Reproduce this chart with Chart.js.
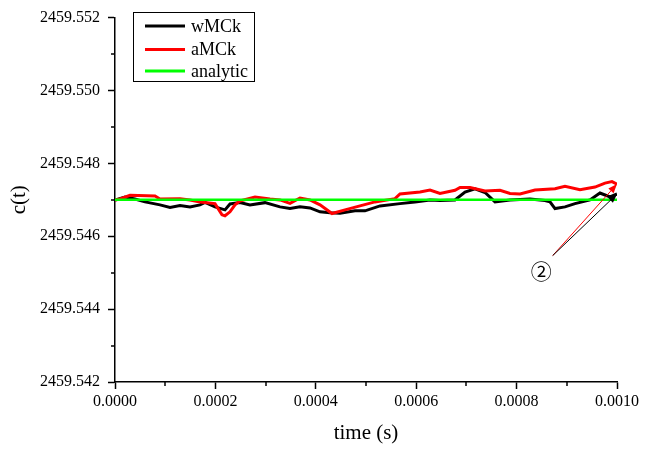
<!DOCTYPE html>
<html>
<head>
<meta charset="utf-8">
<script src="https://cdn.jsdelivr.net/npm/chart.js@4"></script>
<style>
  body { margin: 0; background: #fff; }
  #wrap { width: 652px; height: 449px; }
</style>
</head>
<body>
<div id="wrap"><canvas id="chart" width="652" height="449"></canvas></div>
<script>
// wMCk series (time in s, c(t))
const wTime = [0, 0.0000199, 0.0000398, 0.0000598, 0.0000896, 0.0001096, 0.0001295, 0.0001494, 0.0001693, 0.0001793,
  0.0001992, 0.0002191, 0.0002291, 0.000249, 0.0002689, 0.0002988, 0.0003287, 0.0003486, 0.0003685, 0.0003884,
  0.0004084, 0.0004283, 0.0004482, 0.0004781, 0.000498, 0.0005279, 0.0005677, 0.0005976, 0.0006275, 0.0006474,
  0.0006773, 0.0006972, 0.0007171, 0.0007371, 0.000757, 0.0007869, 0.0008267, 0.0008566, 0.0008665, 0.0008765,
  0.0008964, 0.0009163, 0.0009462, 0.0009661, 0.0009761, 0.0009861, 0.001];
const wValues = [2459.546996, 2459.547078, 2459.547023, 2459.546942, 2459.54686, 2459.546792, 2459.546846, 2459.546806, 2459.54686, 2459.546928,
  2459.546806, 2459.546724, 2459.546887, 2459.546928, 2459.54686, 2459.546922, 2459.546806, 2459.546759, 2459.546806, 2459.546778,
  2459.54667, 2459.546642, 2459.546629, 2459.546697, 2459.546697, 2459.546833, 2459.546895, 2459.546942, 2459.546996, 2459.546982,
  2459.546996, 2459.547213, 2459.547303, 2459.5472, 2459.546942, 2459.546996, 2459.547023, 2459.546982, 2459.546942, 2459.546759,
  2459.546806, 2459.546895, 2459.546996, 2459.547186, 2459.547132, 2459.547078, 2459.547159];

// aMCk series
const aTime = [0, 0.00001, 0.0000299, 0.0000797, 0.0000896, 0.0001295, 0.0001494, 0.0001693, 0.0001992, 0.0002131,
  0.0002191, 0.0002291, 0.000239, 0.000249, 0.0002789, 0.0003088, 0.0003287, 0.0003486, 0.0003685, 0.0003884,
  0.0004084, 0.0004323, 0.0004582, 0.000488, 0.0005179, 0.0005578, 0.0005677, 0.0006076, 0.0006275, 0.0006474,
  0.0006773, 0.0006873, 0.0007072, 0.0007371, 0.0007669, 0.0007869, 0.0008068, 0.0008367, 0.0008765, 0.0008964,
  0.0009263, 0.0009562, 0.0009761, 0.00099, 0.001];
const aValues = [2459.546996, 2459.547023, 2459.547124, 2459.547105, 2459.547023, 2459.547031, 2459.546996, 2459.546942, 2459.546895, 2459.546588,
  2459.546561, 2459.54667, 2459.54686, 2459.546969, 2459.547078, 2459.547023, 2459.546996, 2459.546901, 2459.54705, 2459.546996,
  2459.54686, 2459.546623, 2459.546724, 2459.546833, 2459.546942, 2459.547031, 2459.547159, 2459.547213, 2459.547268, 2459.547173,
  2459.54726, 2459.547336, 2459.547336, 2459.547241, 2459.54726, 2459.547173, 2459.547159, 2459.547268, 2459.547303, 2459.547369,
  2459.547276, 2459.54735, 2459.547458, 2459.547499, 2459.547431];

// analytic series
const anTime = [0, 0.001];
const anValues = [2459.547, 2459.547];

const seriesLabels = ["wMCk", "aMCk", "analytic"];
const seriesColors = ["#000000", "#ff0000", "#00ff00"];

// annotation: circled label with arrows pointing to the series ends
const noteText = "②";
const notePos = { t: 0.000849, c: 2459.54504 };
const arrowStart = { t: 0.000872, c: 2459.54547 };

const serif = "'Liberation Serif', 'Times New Roman', serif";

function toPoints(ts, vs) {
  return ts.map((t, i) => ({ x: t, y: vs[i] }));
}

// minor ticks, legend box and arrows
const extras = {
  id: "extras",
  afterDraw(chart) {
    const ctx = chart.ctx;
    const xs = chart.scales.x;
    const ys = chart.scales.y;
    ctx.save();
    ctx.strokeStyle = "#000";
    ctx.lineWidth = 1.5;
    xs.ticks.forEach((tk, i) => {
      if (i % 2 === 1) {
        const px = Math.round(xs.getPixelForValue(tk.value));
        ctx.beginPath();
        ctx.moveTo(px, xs.top);
        ctx.lineTo(px, xs.top + 4);
        ctx.stroke();
      }
    });
    ys.ticks.forEach((tk, i) => {
      if (i % 2 === 1) {
        const py = Math.round(ys.getPixelForValue(tk.value));
        ctx.beginPath();
        ctx.moveTo(ys.right, py);
        ctx.lineTo(ys.right - 4, py);
        ctx.stroke();
      }
    });

    // legend
    ctx.lineWidth = 1;
    ctx.strokeRect(133.5, 12.5, 121, 69);
    const rows = [26, 49.5, 71];
    ctx.font = "18px " + serif;
    ctx.textBaseline = "middle";
    chart.data.datasets.forEach((ds, i) => {
      ctx.strokeStyle = ds.borderColor;
      ctx.lineWidth = 3;
      ctx.beginPath();
      ctx.moveTo(145, rows[i]);
      ctx.lineTo(185, rows[i]);
      ctx.stroke();
      ctx.fillStyle = "#000";
      ctx.fillText(ds.label, 191, rows[i] + 1);
    });

    // arrows
    const sx = xs.getPixelForValue(arrowStart.t);
    const sy = ys.getPixelForValue(arrowStart.c);
    [[1, "#ff0000"], [0, "#000000"]].forEach(([di, col]) => {
      const d = chart.data.datasets[di].data;
      const end = d[d.length - 1];
      const ex = xs.getPixelForValue(end.x);
      const ey = ys.getPixelForValue(end.y);
      const ang = Math.atan2(ey - sy, ex - sx);
      ctx.strokeStyle = col;
      ctx.fillStyle = col;
      ctx.lineWidth = 1;
      ctx.beginPath();
      ctx.moveTo(sx, sy);
      ctx.lineTo(ex - 7 * Math.cos(ang), ey - 7 * Math.sin(ang));
      ctx.stroke();
      ctx.beginPath();
      ctx.moveTo(ex, ey);
      ctx.lineTo(ex - 9 * Math.cos(ang) + 3.5 * Math.sin(ang), ey - 9 * Math.sin(ang) - 3.5 * Math.cos(ang));
      ctx.lineTo(ex - 9 * Math.cos(ang) - 3.5 * Math.sin(ang), ey - 9 * Math.sin(ang) + 3.5 * Math.cos(ang));
      ctx.closePath();
      ctx.fill();
    });

    ctx.fillStyle = "#000";
    ctx.font = "21px 'Noto Sans CJK SC', 'DejaVu Sans', sans-serif";
    ctx.textAlign = "center";
    ctx.textBaseline = "middle";
    ctx.fillText(noteText, xs.getPixelForValue(notePos.t), ys.getPixelForValue(notePos.c));
    ctx.restore();
  }
};

new Chart(document.getElementById("chart"), {
  type: "line",
  data: {
    datasets: [
      { label: seriesLabels[0], data: toPoints(wTime, wValues), borderColor: seriesColors[0], borderWidth: 3, order: 2 },
      { label: seriesLabels[1], data: toPoints(aTime, aValues), borderColor: seriesColors[1], borderWidth: 3, order: 1 },
      { label: seriesLabels[2], data: toPoints(anTime, anValues), borderColor: seriesColors[2], borderWidth: 2.5, order: 0 },
    ],
  },
  options: {
    responsive: false,
    animation: false,
    events: [],
    elements: { point: { radius: 0 }, line: { tension: 0 } },
    layout: { padding: { top: 14, right: 35, left: 0, bottom: 0 } },
    plugins: { legend: { display: false }, tooltip: { enabled: false } },
    scales: {
      x: {
        type: "linear",
        min: 0,
        max: 0.001,
        afterFit: (s) => { s.height = 67; },
        border: { color: "#000", width: 1.5 },
        grid: {
          drawOnChartArea: false,
          tickLength: 7,
          tickWidth: 1.5,
          tickColor: (c) => (c.index % 2 === 0 ? "#000" : "rgba(0,0,0,0)"),
        },
        ticks: {
          stepSize: 0.0001,
          autoSkip: false,
          maxRotation: 0,
          padding: 3,
          color: "#000",
          font: { family: serif, size: 16 },
          callback: (v, i) => (i % 2 === 0 ? Number(v).toFixed(4) : ""),
        },
        title: { display: true, text: "time (s)", color: "#000", font: { family: serif, size: 21 }, padding: { top: 0, bottom: 3 } },
      },
      y: {
        min: 2459.542,
        max: 2459.552,
        afterFit: (s) => { s.width = 115; },
        border: { color: "#000", width: 1.5 },
        grid: {
          drawOnChartArea: false,
          tickLength: 7,
          tickWidth: 1.5,
          tickColor: (c) => (c.index % 2 === 0 ? "#000" : "rgba(0,0,0,0)"),
        },
        ticks: {
          stepSize: 0.001,
          autoSkip: false,
          padding: 8,
          color: "#000",
          font: { family: serif, size: 16 },
          callback: (v, i) => (i % 2 === 0 ? Number(v).toFixed(3) : ""),
        },
        title: { display: true, text: "c(t)", color: "#000", font: { family: serif, size: 21 }, padding: { top: 7, bottom: 0 } },
      },
    },
  },
  plugins: [extras],
});
</script>
</body>
</html>
